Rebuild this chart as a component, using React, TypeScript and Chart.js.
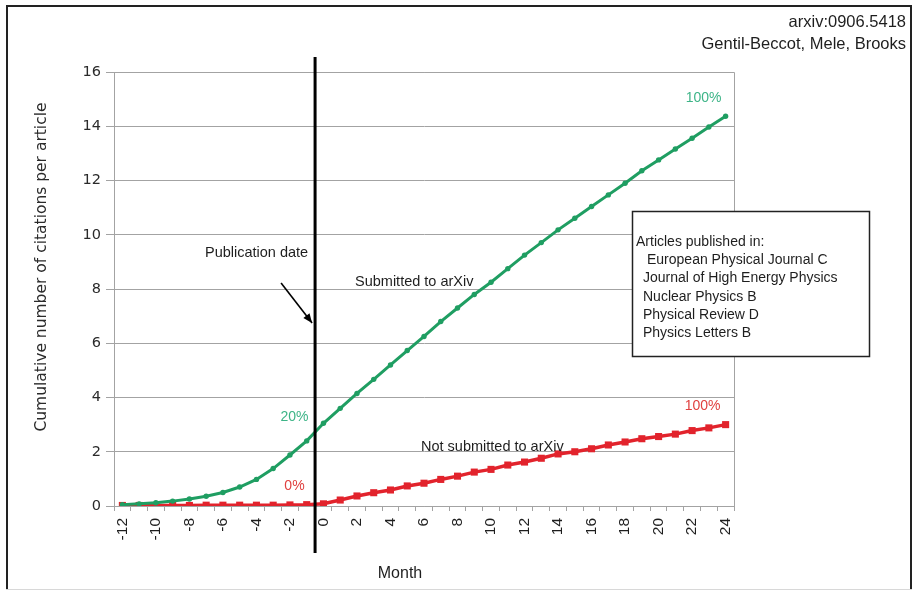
import React, { useEffect, useRef } from 'react';
import { Chart, registerables } from 'chart.js';

Chart.register(...registerables);

const months: string[] = [
  '-12', '-11', '-10', '-9', '-8', '-7', '-6', '-5', '-4', '-3', '-2', '-1',
  '0', '1', '2', '3', '4', '5', '6', '7', '8', '9', '10', '11', '12',
  '13', '14', '15', '16', '17', '18', '19', '20', '21', '22', '23', '24',
];

const submittedToArxiv: number[] = [
  0.05, 0.08, 0.12, 0.18, 0.26, 0.36, 0.5, 0.7, 0.98, 1.38, 1.88, 2.4,
  3.05, 3.6, 4.15, 4.67, 5.2, 5.73, 6.25, 6.8, 7.3, 7.8, 8.25, 8.75, 9.25,
  9.71, 10.18, 10.61, 11.04, 11.47, 11.9, 12.36, 12.76, 13.16, 13.56, 13.97, 14.37,
];

const notSubmitted: number[] = [
  0.02, 0.02, 0.02, 0.02, 0.02, 0.03, 0.03, 0.03, 0.03, 0.03, 0.04, 0.05,
  0.08, 0.22, 0.37, 0.49, 0.59, 0.74, 0.84, 0.98, 1.1, 1.25, 1.35, 1.51, 1.62,
  1.76, 1.92, 2.0, 2.11, 2.25, 2.36, 2.48, 2.56, 2.65, 2.78, 2.88, 3.0,
];

const yMin = 0;
const yMax = 16;
const yStep = 2;

const headerLines: string[] = ['arxiv:0906.5418', 'Gentil-Beccot, Mele, Brooks'];
const boxTitle = 'Articles published in:';
const journals: string[] = [
  'European Physical Journal C',
  'Journal of High Energy Physics',
  'Nuclear Physics B',
  'Physical Review D',
  'Physics Letters B',
];
const yTitle = 'Cumulative number of citations per article';
const xTitle = 'Month';

const GREEN = '#1f9e62';
const GREEN_TEXT = '#3db487';
const RED = '#e2232c';
const RED_TEXT = '#e0403f';
const GRID = '#a3a3a3';
const SANS = '"Liberation Sans", Arial, sans-serif';
const DEJA = '"DejaVu Sans", Verdana, sans-serif';

function text(ctx: CanvasRenderingContext2D, s: string, x: number, y: number, font: string, color: string, align: CanvasTextAlign = 'left') {
  ctx.font = font;
  ctx.fillStyle = color;
  ctx.textAlign = align;
  ctx.textBaseline = 'middle';
  ctx.fillText(s, x, y);
}

const annotations = {
  id: 'annotations',
  beforeDraw(chart: any) {
    const ctx = chart.ctx as CanvasRenderingContext2D;
    ctx.save();
    ctx.fillStyle = '#ffffff';
    ctx.fillRect(0, 0, chart.width, chart.height);
    ctx.restore();
  },
  beforeDatasetsDraw(chart: any) {
    const ctx = chart.ctx as CanvasRenderingContext2D;
    const ca = chart.chartArea;
    ctx.save();
    ctx.strokeStyle = GRID;
    ctx.lineWidth = 1;
    ctx.beginPath();
    ctx.moveTo(ca.left, ca.top + 0.5);
    ctx.lineTo(ca.right + 0.5, ca.top + 0.5);
    ctx.lineTo(ca.right + 0.5, ca.bottom);
    ctx.stroke();
    ctx.restore();
  },
  afterDatasetsDraw(chart: any) {
    const ctx = chart.ctx as CanvasRenderingContext2D;
    const xs = chart.scales.x;
    const ys = chart.scales.y;
    const i0 = months.indexOf('0');
    const lineX = (xs.getPixelForValue(i0 - 1) + xs.getPixelForValue(i0)) / 2;
    ctx.save();
    // publication date line
    ctx.strokeStyle = '#000';
    ctx.lineWidth = 3;
    ctx.beginPath();
    ctx.moveTo(lineX, 57);
    ctx.lineTo(lineX, 553);
    ctx.stroke();

    // arrow
    const tipX = lineX - 3;
    const tipY = 323;
    const sx = lineX - 34;
    const sy = 283;
    ctx.lineWidth = 1.6;
    ctx.beginPath();
    ctx.moveTo(sx, sy);
    ctx.lineTo(tipX, tipY);
    ctx.stroke();
    const ang = Math.atan2(tipY - sy, tipX - sx);
    const hl = 10;
    ctx.beginPath();
    ctx.moveTo(tipX, tipY);
    ctx.lineTo(tipX - hl * Math.cos(ang - 0.4), tipY - hl * Math.sin(ang - 0.4));
    ctx.lineTo(tipX - hl * Math.cos(ang + 0.4), tipY - hl * Math.sin(ang + 0.4));
    ctx.closePath();
    ctx.fillStyle = '#000';
    ctx.fill();

    // percent labels
    const last = months.length - 1;
    const f14 = `14px ${SANS}`;
    text(ctx, '100%', xs.getPixelForValue(last) - 22, ys.getPixelForValue(submittedToArxiv[last]) - 18, f14, GREEN_TEXT, 'center');
    text(ctx, '20%', xs.getPixelForValue(i0) - 29, ys.getPixelForValue(submittedToArxiv[i0]) - 6, f14, GREEN_TEXT, 'center');
    text(ctx, '100%', xs.getPixelForValue(last) - 23, ys.getPixelForValue(notSubmitted[last]) - 18, f14, RED_TEXT, 'center');
    text(ctx, '0%', xs.getPixelForValue(i0) - 29, ys.getPixelForValue(notSubmitted[i0]) - 18, f14, RED_TEXT, 'center');

    const f145 = `14.5px ${SANS}`;
    text(ctx, 'Publication date', 205, 253, f145, '#1e1e1e');
    text(ctx, 'Submitted to arXiv', 355, 282, f145, '#1e1e1e');
    text(ctx, 'Not submitted to arXiv', 421, 447, f145, '#1e1e1e');
    ctx.restore();
  },
  afterDraw(chart: any) {
    const ctx = chart.ctx as CanvasRenderingContext2D;
    ctx.save();
    // legend box
    ctx.fillStyle = '#fff';
    ctx.fillRect(632.5, 211.5, 237, 145);
    ctx.strokeStyle = '#222';
    ctx.lineWidth = 1.5;
    ctx.strokeRect(632.5, 211.5, 237, 145);
    const f14 = `14px ${SANS}`;
    text(ctx, boxTitle, 636, 242, f14, '#1e1e1e');
    const xsOff = [647, 643, 643, 643, 643];
    journals.forEach((j, i) => text(ctx, j, xsOff[i], 260 + i * 18.4, f14, '#1e1e1e'));

    // header
    const f165 = `16.5px ${SANS}`;
    text(ctx, headerLines[0], 906, 22, f165, '#1e1e1e', 'right');
    text(ctx, headerLines[1], 906, 44, f165, '#1e1e1e', 'right');

    // axis titles
    text(ctx, xTitle, 400, 574, `16px ${SANS}`, '#1e1e1e', 'center');
    ctx.save();
    ctx.translate(42, 267);
    ctx.rotate(-Math.PI / 2);
    text(ctx, yTitle, 0, 0, `15.5px ${DEJA}`, '#2a2a2a', 'center');
    ctx.restore();

    // outer frame
    ctx.fillStyle = '#222';
    ctx.fillRect(6, 5, 2, 585);
    ctx.fillRect(6, 5, 906, 2);
    ctx.fillRect(910, 5, 2, 585);
    ctx.fillStyle = '#d8d8d8';
    ctx.fillRect(6, 589, 906, 1);
    ctx.restore();
  },
};

export default function App() {
  const ref = useRef<HTMLCanvasElement | null>(null);
  useEffect(() => {
    if (!ref.current) return;
    const chart = new Chart(ref.current, {
      type: 'line',
      data: {
        labels: months,
        datasets: [
          {
            label: 'Submitted to arXiv',
            data: submittedToArxiv,
            borderColor: GREEN,
            backgroundColor: GREEN,
            borderWidth: 3,
            pointRadius: 2.7,
            pointStyle: 'circle',
            pointBorderWidth: 0,
            tension: 0,
          },
          {
            label: 'Not submitted to arXiv',
            data: notSubmitted,
            borderColor: RED,
            backgroundColor: RED,
            borderWidth: 3.5,
            pointRadius: 5,
            pointStyle: 'rect',
            pointBorderWidth: 0,
            tension: 0,
          },
        ],
      },
      options: {
        responsive: false,
        animation: false,
        devicePixelRatio: 1,
        layout: { padding: { left: 0, top: 72, right: 180, bottom: 0 } },
        plugins: { legend: { display: false }, tooltip: { enabled: false }, title: { display: false } },
        scales: {
          x: {
            type: 'category',
            offset: true,
            afterFit: (s: any) => { s.height = 87; },
            grid: { display: true, drawOnChartArea: false, drawTicks: true, tickLength: 5, offset: true, color: GRID },
            border: { display: true, color: GRID, width: 1 },
            ticks: {
              autoSkip: false,
              minRotation: 90,
              maxRotation: 90,
              padding: 7,
              color: '#1e1e1e',
              font: { family: SANS, size: 15.5 },
              callback: function (this: any, val: any, idx: number) {
                return idx % 2 === 0 ? this.getLabelForValue(val) : '';
              },
            },
          },
          y: {
            min: yMin,
            max: yMax,
            afterFit: (s: any) => { s.width = 114; },
            grid: { color: GRID, drawTicks: true, tickLength: 8, lineWidth: 1 },
            border: { display: true, color: GRID, width: 1 },
            ticks: {
              stepSize: yStep,
              padding: 5,
              color: '#2a2a2a',
              font: { family: DEJA, size: 14.5 },
            },
          },
        },
      },
      plugins: [annotations],
    });
    return () => chart.destroy();
  }, []);
  return (
    <div style={{ position: 'fixed', left: 0, top: 0, width: 914, height: 593, background: '#fff' }}>
      <canvas ref={ref} width={914} height={593} style={{ display: 'block', width: 914, height: 593 }} />
    </div>
  );
}
